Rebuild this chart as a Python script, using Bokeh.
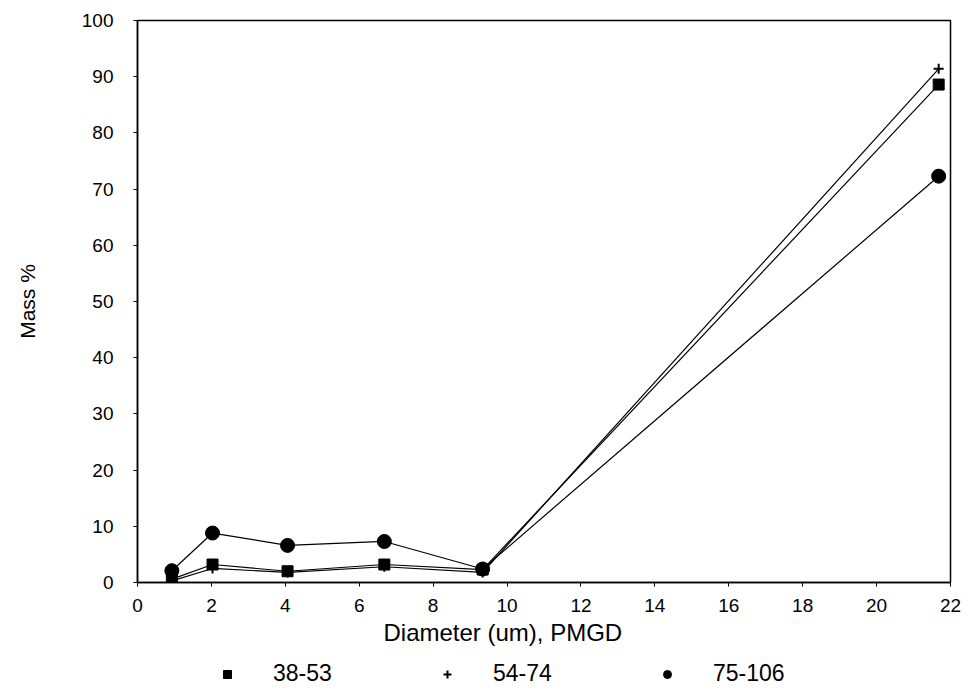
from bokeh.plotting import figure
from bokeh.models import Legend, LegendItem, Range1d, FixedTicker, Title
from bokeh.layouts import column
from bokeh.embed import file_html
from bokeh.resources import INLINE

diameter = [0.93, 2.03, 4.06, 6.68, 9.34, 21.68]
s_38_53 = [0.6, 3.2, 2.0, 3.2, 2.3, 88.6]
s_54_74 = [0.3, 2.5, 1.8, 2.8, 1.8, 91.4]
s_75_106 = [2.1, 8.8, 6.6, 7.3, 2.4, 72.3]
series_names = ["38-53", "54-74", "75-106"]
x_ticks = list(range(0, 23, 2))
y_ticks = list(range(0, 101, 10))
x_title = "Diameter (um), PMGD"
y_title = "Mass %"

FONT = "Liberation Sans"

p = figure(width=968, height=655, output_backend="svg", toolbar_location=None,
           x_range=Range1d(0, 22), y_range=Range1d(0, 100),
           min_border_left=137, min_border_right=18, min_border_top=20,
           min_border_bottom=73)
p.xgrid.visible = False
p.ygrid.visible = False
p.outline_line_color = "black"
p.outline_line_width = 1.5
p.background_fill_color = "white"
p.border_fill_color = "white"

for ax in (p.xaxis[0], p.yaxis[0]):
    ax.axis_line_color = "black"
    ax.axis_line_width = 1.5
    ax.major_tick_line_color = "black"
    ax.major_tick_in = 0
    ax.major_tick_out = 4
    ax.minor_tick_line_color = None
    ax.major_label_text_font = FONT
    ax.major_label_text_font_size = "19px"
    ax.major_label_text_color = "black"
    ax.axis_label_text_font = FONT
    ax.axis_label_text_font_size = "21px"
    ax.axis_label_text_font_style = "normal"
    ax.axis_label_text_color = "black"

p.xaxis.ticker = FixedTicker(ticks=x_ticks)
p.yaxis.ticker = FixedTicker(ticks=y_ticks)
p.yaxis.axis_label = y_title
p.xaxis.major_label_standoff = 12
p.yaxis.major_label_standoff = 20
p.yaxis.axis_label_standoff = 40

# x-axis title, set slightly left of centre as in the reference
p.add_layout(Title(text=x_title, align="left", offset=246, standoff=4,
                   text_font=FONT, text_font_size="24px", text_font_style="normal",
                   text_color="black"), "below")

p.line(diameter, s_38_53, line_color="black", line_width=1.2)
p.line(diameter, s_54_74, line_color="black", line_width=1.2)
p.line(diameter, s_75_106, line_color="black", line_width=1.2)

p.scatter(diameter, s_38_53, marker="square", size=11, color="black")
p.scatter(diameter, s_54_74, marker="cross", size=10, line_color="black", line_width=2)
p.scatter(diameter, s_75_106, marker="circle", size=14, color="black")

# legend strip below the chart (its ranges keep the key glyphs out of view)
lg = figure(width=968, height=40, output_backend="svg", toolbar_location=None,
            x_range=Range1d(-2, -1), y_range=Range1d(-2, -1),
            min_border_left=137, min_border_right=18, min_border_top=0, min_border_bottom=0)
lg.axis.visible = False
lg.grid.visible = False
lg.outline_line_color = None
k1 = lg.scatter(diameter, s_38_53, marker="square", size=9, color="black")
k2 = lg.scatter(diameter, s_54_74, marker="cross", size=9, line_color="black", line_width=2)
k3 = lg.scatter(diameter, s_75_106, marker="circle", size=12, color="black")

legend = Legend(items=[LegendItem(label=series_names[0], renderers=[k1]),
                       LegendItem(label=series_names[1], renderers=[k2]),
                       LegendItem(label=series_names[2], renderers=[k3])],
                orientation="horizontal", location=(80, 8),
                label_text_font=FONT, label_text_font_size="23px",
                label_text_color="black", label_height=20, label_width=100,
                label_standoff=36, spacing=64, glyph_width=20, glyph_height=20,
                border_line_color=None, background_fill_alpha=0,
                padding=0, margin=0)
lg.add_layout(legend, "center")

layout = column(p, lg, spacing=0)
open("out.html", "w").write(file_html(layout, INLINE))
